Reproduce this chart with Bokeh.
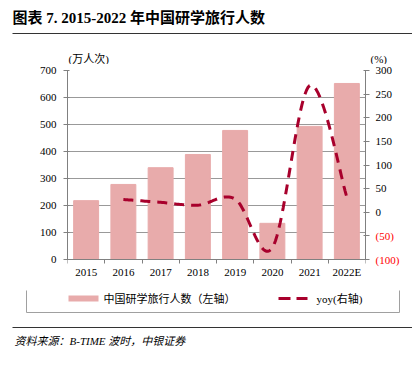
from bokeh.plotting import figure
from bokeh.layouts import column, row
from bokeh.models import Range1d, LinearAxis, FixedTicker, ColumnDataSource
from bokeh.core.properties import value
from bokeh.embed import file_html
from bokeh.resources import INLINE

# ---------------- data ----------------
years = ["2015", "2016", "2017", "2018", "2019", "2020", "2021", "2022E"]
visitors = [218, 278, 340, 389, 478, 134, 493, 652]          # 万人次 (left axis)
yoy_years = ["2016", "2017", "2018", "2019", "2020", "2021", "2022E"]
yoy = [27, 21, 15, 28, -75, 268, 32]                          # % (right axis)
left_ticks = [0, 100, 200, 300, 400, 500, 600, 700]
right_ticks = [-100, -50, 0, 50, 100, 150, 200, 250, 300]

title_text = "图表 7. 2015-2022 年中国研学旅行人数"
left_unit = "(万人次)"
right_unit = "(%)"
bar_name = "中国研学旅行人数（左轴）"
line_name = "yoy(右轴)"
source_text = "资料来源：B-TIME 波时，中银证券"

# ---------------- style / layout ----------------
SERIF = "Liberation Serif, 'Noto Sans CJK SC'"
BAR_COLOR = "#E8ABAB"
LINE_COLOR = "#A8002C"
AXIS_COLOR = "#808080"
GRID_COLOR = "#999999"

W = 412
TOP_H = 64            # page y 0..64
MID_H = 226           # page y 64..290
BOT_H = 75            # page y 290..365
PL, PR, PT, PB = 67, 365, 70, 259     # plot area (axes box) in page coordinates
SIDE_X0 = PR + 6                      # right-label strip starts here
MID_TOP, MID_BOT = TOP_H, TOP_H + MID_H


def padded(lo, hi):
    """range whose lo..hi spans page rows PB..PT of a frame spanning MID_TOP..MID_BOT"""
    per_px = (hi - lo) / (PB - PT)
    return Range1d(lo - (MID_BOT - PB) * per_px, hi + (PT - MID_TOP) * per_px)


def blank_fig(w, h, x0, x1, y_rng, **kw):
    f = figure(width=w, height=h, x_range=Range1d(x0, x1), y_range=y_rng,
               x_axis_location=None, y_axis_location=None, title=None,
               output_backend="svg", toolbar_location=None, min_border=0, **kw)
    f.outline_line_color = None
    f.grid.visible = False
    f.background_fill_color = "white"
    f.border_fill_color = "white"
    return f


def txt(f, x, y, t, size="11px", style="normal", color="black", align="left"):
    f.text(x=[x], y=[y], text=[t], text_font=value(SERIF), text_font_size=size,
           text_font_style=style, text_color=color, text_align=align,
           text_baseline="middle")


# ---------------- top strip: title + unit labels ----------------
top = blank_fig(W, TOP_H, 0, W, Range1d(TOP_H, 0))
txt(top, 12, 17, title_text, size="15px", style="bold")
top.segment(x0=[12], y0=[33], x1=[W], y1=[33], line_color="#333333", line_width=1)
txt(top, 68, 58, left_unit)
txt(top, 370, 58, right_unit)

# ---------------- main chart ----------------
pos = {y: i + 0.5 for i, y in enumerate(years)}   # category slot centres

p = figure(width=SIDE_X0, height=MID_H, title=None,
           x_range=Range1d(0, len(years)),
           y_range=padded(left_ticks[0], left_ticks[-1]),
           output_backend="svg", toolbar_location=None,
           min_border_left=PL, min_border_right=SIDE_X0 - PR,
           min_border_top=0, min_border_bottom=0)
p.outline_line_color = None
p.background_fill_color = "white"
p.border_fill_color = "white"
p.extra_y_ranges = {"y2": padded(right_ticks[0], right_ticks[-1])}

p.ygrid.ticker = FixedTicker(ticks=left_ticks[1:-1])
p.ygrid.grid_line_color = GRID_COLOR
p.ygrid.grid_line_width = 1
p.xgrid.visible = False

ya = p.yaxis[0]
ya.ticker = FixedTicker(ticks=left_ticks)
ya.bounds = (left_ticks[0], left_ticks[-1])
ya.axis_line_color = AXIS_COLOR
ya.major_tick_line_color = AXIS_COLOR
ya.major_tick_out = 4
ya.major_tick_in = 2
ya.minor_tick_line_color = None
ya.major_label_text_font = SERIF
ya.major_label_text_font_size = "11px"
ya.major_label_text_color = "black"
ya.major_label_standoff = 7

ra = LinearAxis(y_range_name="y2", ticker=FixedTicker(ticks=right_ticks),
                bounds=(right_ticks[0], right_ticks[-1]),
                major_label_overrides={t: "" for t in right_ticks})
ra.axis_line_color = AXIS_COLOR
ra.major_tick_line_color = AXIS_COLOR
ra.major_tick_out = 4
ra.major_tick_in = 2
ra.minor_tick_line_color = None
ra.major_label_standoff = 0
ra.major_label_text_font_size = "1px"
p.add_layout(ra, "right")

xa = p.xaxis[0]
xa.fixed_location = 0
xa.ticker = FixedTicker(ticks=[pos[y] for y in years],
                        minor_ticks=[float(i) for i in range(len(years) + 1)])
xa.major_label_overrides = {pos[y]: y for y in years}
xa.axis_line_color = AXIS_COLOR
xa.major_tick_line_color = None
xa.minor_tick_line_color = AXIS_COLOR
xa.minor_tick_out = 4
xa.minor_tick_in = 0
xa.major_label_text_font = SERIF
xa.major_label_text_font_size = "11px"
xa.major_label_text_color = "black"
xa.major_label_standoff = 0

src = ColumnDataSource(dict(x=[pos[y] for y in years], v=visitors))
p.vbar(x="x", top="v", bottom=0, width=0.67, source=src, color=BAR_COLOR)

# smooth yoy line (Catmull-Rom curve through the data points)
pts = list(zip([pos[y] for y in yoy_years], yoy))
cx, cy = [], []
n = len(pts)
for i in range(n - 1):
    p0 = pts[i - 1] if i > 0 else pts[i]
    p1 = pts[i]
    p2 = pts[i + 1]
    p3 = pts[i + 2] if i + 2 < n else pts[i + 1]
    c1 = (p1[0] + (p2[0] - p0[0]) / 6, p1[1] + (p2[1] - p0[1]) / 6)
    c2 = (p2[0] - (p3[0] - p1[0]) / 6, p2[1] - (p3[1] - p1[1]) / 6)
    steps = 24
    for k in range(steps + (1 if i == n - 2 else 0)):
        t = k / steps
        a, b, c, d = (1 - t) ** 3, 3 * (1 - t) ** 2 * t, 3 * (1 - t) * t ** 2, t ** 3
        cx.append(a * p1[0] + b * c1[0] + c * c2[0] + d * p2[0])
        cy.append(a * p1[1] + b * c1[1] + c * c2[1] + d * p2[1])
p.line(cx, cy, y_range_name="y2", line_color=LINE_COLOR, line_width=3,
       line_dash="10 7")

# ---------------- right tick labels strip (same vertical scale as y2) ----------------
side = blank_fig(W - SIDE_X0, MID_H, SIDE_X0, W, padded(right_ticks[0], right_ticks[-1]))
side.text(x=[375] * len(right_ticks), y=right_ticks,
          text=[f"({abs(t)})" if t < 0 else str(t) for t in right_ticks],
          text_color=["red" if t < 0 else "black" for t in right_ticks],
          text_font=value(SERIF), text_font_size="11px",
          text_align="left", text_baseline="middle")

# ---------------- bottom strip: legend + source ----------------
bot = blank_fig(W, BOT_H, 0, W, Range1d(MID_BOT + BOT_H, MID_BOT))
bot.quad(left=[26], right=[399], top=[284], bottom=[312], fill_color=None,
         line_color="#A0A0A0", line_width=1)
bot.quad(left=[68], right=[98], top=[295], bottom=[301], fill_color=BAR_COLOR,
         line_color=None)
txt(bot, 103, 298, bar_name)
bot.segment(x0=[278], y0=[298], x1=[307], y1=[298], line_color=LINE_COLOR,
            line_width=3, line_dash="12 6")
txt(bot, 316, 298, line_name)
bot.segment(x0=[12], y0=[327], x1=[W], y1=[327], line_color="#333333", line_width=1)
txt(bot, 14, 340, source_text, style="italic")

layout = column(top, row(p, side), bot)
open("out.html", "w").write(file_html(layout, INLINE))
